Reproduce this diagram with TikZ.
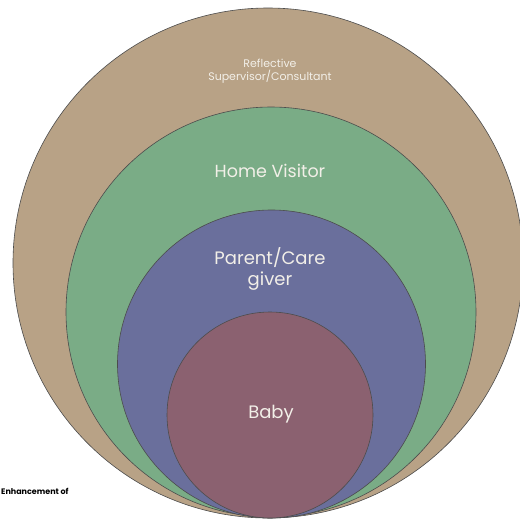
\documentclass[tikz,border=0pt]{standalone}
\usepackage{fontspec}
\setmainfont{Poppins}
\definecolor{tanc}{HTML}{B8A286}
\definecolor{greenc}{HTML}{7AAC86}
\definecolor{bluec}{HTML}{6A6F9C}
\definecolor{babyc}{HTML}{8B6170}
\definecolor{txtc}{HTML}{F2EFE8}
\begin{document}
\begin{tikzpicture}[x=1pt,y=-1pt,
  ring/.style={circle, draw=black!70, line width=0.6pt, inner sep=0pt},
  lbl/.style={text=txtc, align=center, inner sep=0pt}]
\useasboundingbox (0,0) rectangle (520,520);
\fill[white] (0,0) rectangle (520,520);
\node[ring, fill=tanc, minimum size=510pt] (outer) at (268,263) {};
\node[ring, fill=greenc, minimum size=410pt] (visitor) at (271,312) {};
\node[ring, fill=bluec, minimum size=308pt] (parent) at (271.5,364) {};
\node[ring, fill=babyc, minimum size=206pt] (baby) at (270,415) {};
\node[lbl, font=\fontsize{11}{13}\selectfont] (t1) at (270,71) {Reflective\\Supervisor/Consultant};
\node[lbl, font=\fontsize{17.5}{19}\selectfont] (t2) at (270,171) {Home Visitor};
\node[lbl, font=\fontsize{18}{21}\selectfont] (t3) at (270,269) {Parent/Care\\giver};
\node[lbl, font=\fontsize{18}{19}\selectfont] (t4) at (271,414) {Baby};
\node[anchor=west, inner sep=0pt, font=\bfseries\fontsize{8}{9}\selectfont] (note) at (1,491) {Enhancement of};
\end{tikzpicture}
\end{document}
